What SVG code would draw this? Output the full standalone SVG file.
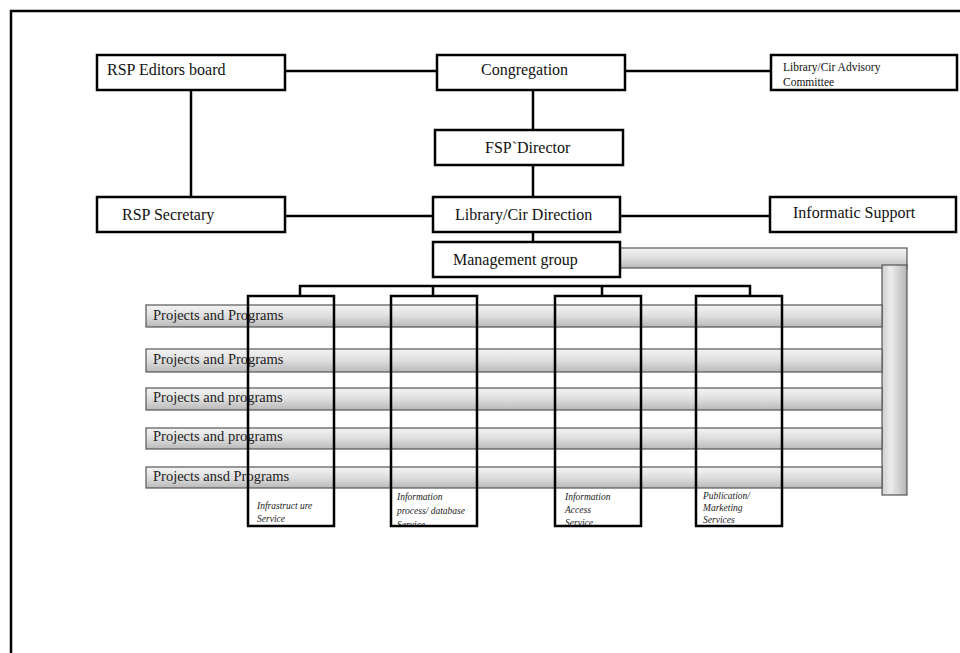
<svg xmlns="http://www.w3.org/2000/svg" width="960" height="653" viewBox="0 0 960 653">
<style>
.box{fill:#fff;stroke:#000;stroke-width:2.5}
.col{fill:none;stroke:#000;stroke-width:2.5}
.bar{fill:url(#gh);stroke:#555;stroke-width:1.2}
.vbar{fill:url(#gv);stroke:#555;stroke-width:1.2}
.t{font-family:"Liberation Serif","Times New Roman",serif;font-size:16px;fill:#111}
.ts{font-family:"Liberation Serif","Times New Roman",serif;font-size:11.5px;fill:#111}
.tp{font-family:"Liberation Serif","Times New Roman",serif;font-size:14.5px;fill:#222}
.ti{font-family:"Liberation Serif","Times New Roman",serif;font-style:italic;font-size:9.5px;fill:#222}
.ln{stroke:#000;stroke-width:2.5;fill:none}
</style>
<defs>
<linearGradient id="gh" x1="0" y1="0" x2="0" y2="1">
<stop offset="0" stop-color="#f4f4f4"/>
<stop offset="0.5" stop-color="#dedede"/>
<stop offset="1" stop-color="#b9b9b9"/>
</linearGradient>
<linearGradient id="gv" x1="0" y1="0" x2="1" y2="0">
<stop offset="0" stop-color="#cfcfcf"/>
<stop offset="0.35" stop-color="#ececec"/>
<stop offset="1" stop-color="#b5b5b5"/>
</linearGradient>
<clipPath id="c1"><rect x="249" y="297" width="84" height="228"/></clipPath>
<clipPath id="c2"><rect x="392" y="297" width="84" height="228"/></clipPath>
<clipPath id="c3"><rect x="556" y="297" width="84" height="228"/></clipPath>
<clipPath id="c4"><rect x="697" y="297" width="84" height="228"/></clipPath>
</defs>
<rect width="960" height="653" fill="#fff"/>
<path d="M11,653 V11 H960" stroke="#000" stroke-width="2.5" fill="none"/>

<g id="connectors">
<path class="ln" d="M285,71 H437"/>
<path class="ln" d="M625,71 H771"/>
<path class="ln" d="M191,90 V197"/>
<path class="ln" d="M533,90 V130"/>
<path class="ln" d="M533,165 V197"/>
<path class="ln" d="M285,216 H433"/>
<path class="ln" d="M620,216 H770"/>
<path class="ln" d="M533,232 V242"/>
<path class="ln" d="M300,296 V286 H750 V296"/>
<path class="ln" d="M433,286 V296"/>
<path class="ln" d="M602,286 V296"/>
</g>

<g id="side-bars">
<rect class="bar" x="620" y="248" width="287" height="20"/>
<rect class="vbar" x="882" y="265" width="25" height="230"/>
</g>

<g id="bar1"><rect class="bar" x="146" y="305" width="736" height="22"/><text class="tp" x="153" y="320">Projects and Programs</text></g>
<g id="bar2"><rect class="bar" x="146" y="349" width="736" height="23"/><text class="tp" x="153" y="364">Projects and Programs</text></g>
<g id="bar3"><rect class="bar" x="146" y="388" width="736" height="22"/><text class="tp" x="153" y="402">Projects and programs</text></g>
<g id="bar4"><rect class="bar" x="146" y="428" width="736" height="21"/><text class="tp" x="153" y="441">Projects and programs</text></g>
<g id="bar5"><rect class="bar" x="146" y="467" width="736" height="21"/><text class="tp" x="153" y="481">Projects ansd Programs</text></g>

<g id="editors"><rect class="box" x="97" y="55" width="188" height="35"/><text class="t" x="107" y="75">RSP Editors board</text></g>
<g id="congregation"><rect class="box" x="437" y="55" width="188" height="35"/><text class="t" x="481" y="75">Congregation</text></g>
<g id="advisory"><rect class="box" x="771" y="55" width="186" height="35"/><text class="ts" x="783" y="71">Library/Cir  Advisory</text><text class="ts" x="783" y="86">Committee</text></g>
<g id="director"><rect class="box" x="435" y="130" width="188" height="35"/><text class="t" x="485" y="153">FSP`Director</text></g>
<g id="secretary"><rect class="box" x="97" y="197" width="188" height="35"/><text class="t" x="122" y="220">RSP Secretary</text></g>
<g id="direction"><rect class="box" x="433" y="197" width="187" height="35"/><text class="t" x="455" y="220">Library/Cir Direction</text></g>
<g id="informatic"><rect class="box" x="770" y="197" width="186" height="35"/><text class="t" x="793" y="218">Informatic Support</text></g>
<g id="management"><rect class="box" x="433" y="242" width="187" height="35"/><text class="t" x="453" y="265">Management group</text></g>

<g id="infrastructure"><rect class="col" x="248" y="296" width="86" height="230"/><g clip-path="url(#c1)"><text class="ti" x="257" y="509">Infrastruct ure</text><text class="ti" x="257" y="522">Service</text></g></g>
<g id="processing"><rect class="col" x="391" y="296" width="86" height="230"/><g clip-path="url(#c2)"><text class="ti" x="397" y="500">Information</text><text class="ti" x="397" y="514">process/ database</text><text class="ti" x="397" y="528">Service</text></g></g>
<g id="access"><rect class="col" x="555" y="296" width="86" height="230"/><g clip-path="url(#c3)"><text class="ti" x="565" y="500">Information</text><text class="ti" x="565" y="513">Access</text><text class="ti" x="565" y="526">Service</text></g></g>
<g id="publication"><rect class="col" x="696" y="296" width="86" height="230"/><g clip-path="url(#c4)"><text class="ti" x="703" y="499">Publication/</text><text class="ti" x="703" y="511">Marketing</text><text class="ti" x="703" y="523">Services</text></g></g>
</svg>
